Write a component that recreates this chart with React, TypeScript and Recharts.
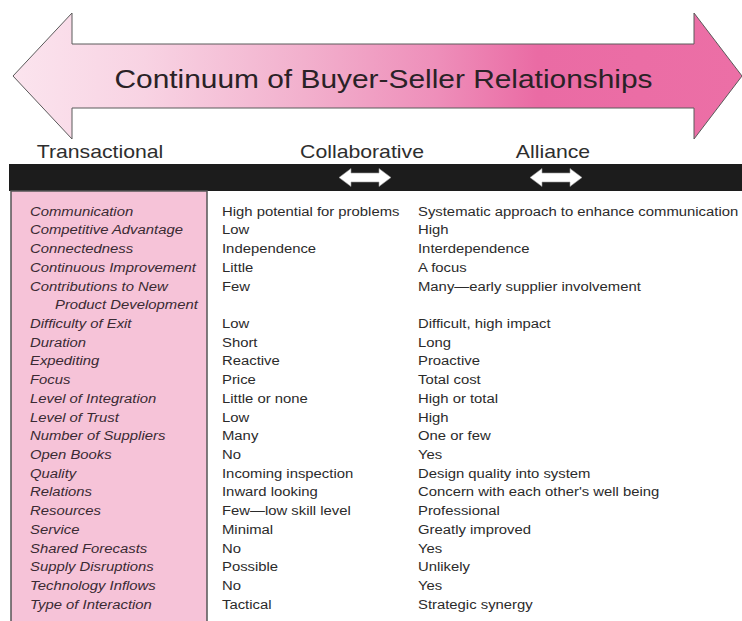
import React from "react";
import { ComposedChart, XAxis, YAxis, Scatter, ReferenceArea } from "recharts";

// ---- data ----
const title = "Continuum of Buyer-Seller Relationships";

const stages = ["Transactional", "Collaborative", "Alliance"];

const attributes = [
	"Communication",
	"Competitive Advantage",
	"Connectedness",
	"Continuous Improvement",
	"Contributions to New\nProduct Development",
	"Difficulty of Exit",
	"Duration",
	"Expediting",
	"Focus",
	"Level of Integration",
	"Level of Trust",
	"Number of Suppliers",
	"Open Books",
	"Quality",
	"Relations",
	"Resources",
	"Service",
	"Shared Forecasts",
	"Supply Disruptions",
	"Technology Inflows",
	"Type of Interaction",
];

const transactional = [
	"High potential for problems",
	"Low",
	"Independence",
	"Little",
	"Few",
	"Low",
	"Short",
	"Reactive",
	"Price",
	"Little or none",
	"Low",
	"Many",
	"No",
	"Incoming inspection",
	"Inward looking",
	"Few—low skill level",
	"Minimal",
	"No",
	"Possible",
	"No",
	"Tactical",
];

const alliance = [
	"Systematic approach to enhance communication",
	"High",
	"Interdependence",
	"A focus",
	"Many—early supplier involvement",
	"Difficult, high impact",
	"Long",
	"Proactive",
	"Total cost",
	"High or total",
	"High",
	"One or few",
	"Yes",
	"Design quality into system",
	"Concern with each other's well being",
	"Professional",
	"Greatly improved",
	"Yes",
	"Unlikely",
	"Yes",
	"Strategic synergy",
];

// ---- layout ----
const W = 742;
const H = 621;
const ROW0 = 211; // pixel centre of the first table line
const ROW_STEP = 18.71;
const COL = { attr: 30, indent: 55, transactional: 222, alliance: 418 };
const STAGE_X = [100, 362, 553];
const STAGE_Y = 152;
const BAR = { top: 164, bottom: 191 };
const FONT = "'Liberation Sans', Arial, Helvetica, sans-serif";

// rows axis measured in table lines, mapped onto the full canvas height
const rowDomain = [-ROW0 / ROW_STEP, (H - ROW0) / ROW_STEP];

const attrLines: { x: number; line: number; text: string }[] = [];
const transLines: { x: number; line: number; text: string }[] = [];
const allianceLines: { x: number; line: number; text: string }[] = [];
let line = 0;
attributes.forEach((name, i) => {
	const parts = name.split("\n");
	parts.forEach((p, k) => attrLines.push({ x: k ? COL.indent : COL.attr, line: line + k, text: p }));
	transLines.push({ x: COL.transactional, line, text: transactional[i] });
	allianceLines.push({ x: COL.alliance, line, text: alliance[i] });
	line += parts.length;
});

const stageLabels = stages.map((s, i) => ({ x: STAGE_X[i], py: STAGE_Y, text: s }));
const stageArrows = stages.slice(1).map((s, i) => ({ x: STAGE_X[i + 1] + 3, py: (BAR.top + BAR.bottom) / 2, text: s }));

// the scan is a little stretched sideways, so text gets a horizontal scale
const WideText = ({ x, y, sx, size, color, italic, anchor, children }: any) => (
	<text
		transform={`translate(${x} ${y}) scale(${sx} 1)`}
		textAnchor={anchor ?? "start"}
		dominantBaseline="central"
		fontFamily={FONT}
		fontSize={size}
		fontStyle={italic ? "italic" : "normal"}
		fill={color}
	>
		{children}
	</text>
);

const BigArrow = (props: any) => {
	const { x, y, width, height } = props;
	const headL = 59;
	const headR = 48;
	const inset = 31;
	const cy = y + height / 2;
	const pts = [
		[x, cy],
		[x + headL, y],
		[x + headL, y + inset],
		[x + width - headR, y + inset],
		[x + width - headR, y],
		[x + width, cy],
		[x + width - headR, y + height],
		[x + width - headR, y + height - inset],
		[x + headL, y + height - inset],
		[x + headL, y + height],
	]
		.map((p) => p.join(","))
		.join(" ");
	return (
		<g>
			<polygon points={pts} fill="url(#continuumGrad)" stroke="#5a5a5a" strokeWidth={1} />
			<WideText x={x + width / 2 + 6} y={cy + 3} sx={1.15} size={26} color="#2a2226" anchor="middle">
				{title}
			</WideText>
		</g>
	);
};

const SmallArrow = (props: any) => {
	const { cx, cy } = props;
	const w = 52;
	const head = 12;
	const hh = 9;
	const sh = 4.5;
	const l = cx - w / 2;
	const r = cx + w / 2;
	const pts = [
		[l, cy],
		[l + head, cy - hh],
		[l + head, cy - sh],
		[r - head, cy - sh],
		[r - head, cy - hh],
		[r, cy],
		[r - head, cy + hh],
		[r - head, cy + sh],
		[l + head, cy + sh],
		[l + head, cy + hh],
	]
		.map((p) => p.join(","))
		.join(" ");
	return <polygon points={pts} fill="#ffffff" stroke="#9a9a9a" strokeWidth={0.6} />;
};

const textShape =
	(opts: { size: number; sx: number; color: string; italic?: boolean; anchor?: string }) =>
	(props: any) => (
		<WideText x={props.cx} y={props.cy} sx={opts.sx} size={opts.size} color={opts.color} italic={opts.italic} anchor={opts.anchor}>
			{props.payload.text}
		</WideText>
	);

export default function App() {
	return (
		<div style={{ position: "absolute", left: 0, top: 0, background: "#fff" }}>
			<ComposedChart width={W} height={H} margin={{ top: 0, right: 0, bottom: 0, left: 0 }}>
				<defs>
					<linearGradient id="continuumGrad" x1="0" y1="0" x2="1" y2="0">
						<stop offset="0%" stopColor="#fbe4ee" />
						<stop offset="18%" stopColor="#f8d3e3" />
						<stop offset="40%" stopColor="#f2b0cd" />
						<stop offset="58%" stopColor="#ee8fba" />
						<stop offset="72%" stopColor="#ea6ba4" />
						<stop offset="100%" stopColor="#ec6fa6" />
					</linearGradient>
				</defs>
				<XAxis type="number" dataKey="x" domain={[0, W]} allowDataOverflow hide />
				<YAxis yAxisId="page" type="number" dataKey="py" domain={[0, H]} reversed allowDataOverflow hide width={0} />
				<YAxis yAxisId="rows" type="number" dataKey="line" domain={rowDomain} reversed allowDataOverflow hide width={0} />

				<ReferenceArea yAxisId="page" x1={13} x2={742} y1={13} y2={139} ifOverflow="visible" shape={BigArrow} />
				<ReferenceArea yAxisId="page" x1={9} x2={742} y1={BAR.top} y2={BAR.bottom} fill="#1c1c1c" fillOpacity={1} stroke="none" ifOverflow="visible" />
				<ReferenceArea yAxisId="page" x1={11} x2={207} y1={BAR.bottom} y2={H + 2} fill="#f6c3d8" fillOpacity={1} stroke="#555" strokeWidth={1.5} ifOverflow="visible" />

				<Scatter yAxisId="page" data={stageLabels} isAnimationActive={false} shape={textShape({ size: 18, sx: 1.18, color: "#2e2e2e", anchor: "middle" })} />
				<Scatter yAxisId="page" data={stageArrows} isAnimationActive={false} shape={SmallArrow} />

				<Scatter yAxisId="rows" data={attrLines} isAnimationActive={false} shape={textShape({ size: 13.5, sx: 1.1, color: "#3a2a33", italic: true })} />
				<Scatter yAxisId="rows" data={transLines} isAnimationActive={false} shape={textShape({ size: 13.5, sx: 1.1, color: "#2b2b2b" })} />
				<Scatter yAxisId="rows" data={allianceLines} isAnimationActive={false} shape={textShape({ size: 13.5, sx: 1.1, color: "#2b2b2b" })} />
			</ComposedChart>
		</div>
	);
}
